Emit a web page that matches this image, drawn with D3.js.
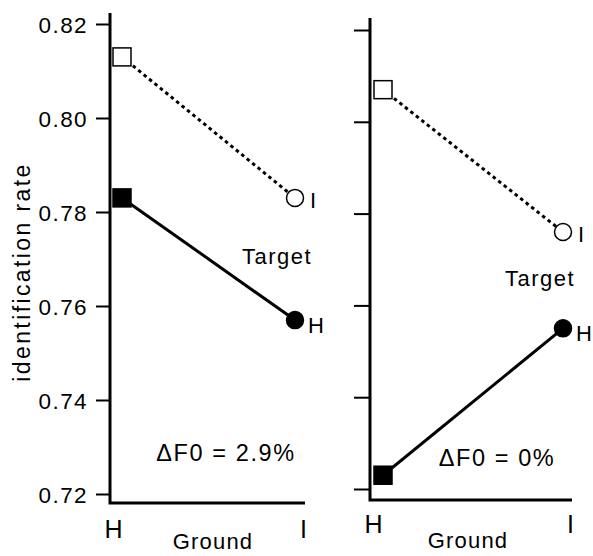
<!DOCTYPE html>
<html>
<head>
<meta charset="utf-8">
<script src="https://cdn.jsdelivr.net/npm/d3@7"></script>
<style>
  body { margin: 0; background: #fff; }
  svg { display: block; }
  text { font-family: "Liberation Sans", Arial, Helvetica, sans-serif; fill: #000; }
</style>
</head>
<body>
<script>
// ground categories (x) and y ticks
var grounds = ["H", "I"];
var yTicks = [0.72, 0.74, 0.76, 0.78, 0.80, 0.82];
var deltaF0 = ["2.9%", "0%"];

// identification rate, target H (filled, solid line) / target I (open, dotted)
var leftTargetH = [0.783, 0.757];
var leftTargetI = [0.813, 0.783];
var rightTargetH = [0.723, 0.755];
var rightTargetI = [0.807, 0.776];

var W = 593, H = 556;

var svg = d3.select("body").append("svg")
  .attr("width", W)
  .attr("height", H);

svg.append("rect").attr("width", W).attr("height", H).attr("fill", "#fff");

// geometry of each panel (pixels)
var panels = [
  { ax: 110, top: 13, bottom: 503, right: 305, yt: 24, yb: 494, mx: [122, 295],
    labels: true, tickLen: 14, hI: leftTargetI, hH: leftTargetH, df: deltaF0[0],
    dfX: 226, dfY: 461, tgX: 277, tgY: 264, gx: 213, gy: 549, lblY: 538 },
  { ax: 370, top: 18, bottom: 500, right: 572, yt: 30, yb: 489, mx: [383, 563],
    labels: false, tickLen: 16, hI: rightTargetI, hH: rightTargetH, df: deltaF0[1],
    dfX: 497, dfY: 466, tgX: 540, tgY: 286, gx: 468, gy: 548, lblY: 533 }
];

function drawPanel(p) {
  var g = svg.append("g");

  var y = d3.scaleLinear().domain([0.72, 0.82]).range([p.yb, p.yt]);
  var xAxisScale = d3.scalePoint().domain(grounds).range([p.ax + 3, p.right - 2]);
  var x = d3.scalePoint().domain(grounds).range(p.mx);

  // y axis ticks
  var yAxis = d3.axisLeft(y)
    .tickValues(yTicks)
    .tickSize(p.tickLen)
    .tickPadding(8)
    .tickFormat(p.labels ? d3.format(".2f") : "");
  var ya = g.append("g").attr("transform", "translate(" + p.ax + ",0)").call(yAxis);
  ya.select(".domain").remove();
  ya.selectAll("line").attr("stroke", "#000").attr("stroke-width", 2);
  ya.selectAll("text")
    .style("font-size", "22.5px")
    .style("letter-spacing", "1.4px")
    .attr("dy", "0.36em");

  // axis frame
  g.append("path")
    .attr("d", "M" + p.ax + "," + p.top + "V" + p.bottom + "H" + p.right)
    .attr("fill", "none")
    .attr("stroke", "#000")
    .attr("stroke-width", 3);

  // x tick labels
  var xAxis = d3.axisBottom(xAxisScale).tickSize(0).tickPadding(0);
  var xa = g.append("g").attr("transform", "translate(0," + p.lblY + ")").call(xAxis);
  xa.select(".domain").remove();
  xa.selectAll("text")
    .attr("dy", 0)
    .attr("y", 0)
    .style("font-size", "25px");

  g.append("text")
    .attr("x", p.gx).attr("y", p.gy)
    .attr("text-anchor", "middle")
    .style("font-size", "22px")
    .style("letter-spacing", "1.2px")
    .text("Ground");

  // lines
  var line = d3.line()
    .x(function(d, i) { return x(grounds[i]); })
    .y(function(d) { return y(d); });

  g.append("path").datum(p.hI)
    .attr("d", line)
    .attr("fill", "none")
    .attr("stroke", "#000")
    .attr("stroke-width", 3)
    .attr("stroke-dasharray", "3.5,3.5");

  g.append("path").datum(p.hH)
    .attr("d", line)
    .attr("fill", "none")
    .attr("stroke", "#000")
    .attr("stroke-width", 3);

  // markers: ground H = square, ground I = circle; target H filled, target I open
  var series = [
    { vals: p.hI, fill: "#fff" },
    { vals: p.hH, fill: "#000" }
  ];
  series.forEach(function(s) {
    var sq = 18;
    g.append("rect")
      .attr("x", x("H") - sq / 2)
      .attr("y", y(s.vals[0]) - sq / 2)
      .attr("width", sq).attr("height", sq)
      .attr("fill", s.fill)
      .attr("stroke", "#000")
      .attr("stroke-width", 1.5);
    g.append("circle")
      .attr("cx", x("I"))
      .attr("cy", y(s.vals[1]))
      .attr("r", 8.5)
      .attr("fill", s.fill)
      .attr("stroke", "#000")
      .attr("stroke-width", 1.5);
  });

  // target labels beside the end points
  g.append("text")
    .attr("x", x("I") + 15).attr("y", y(p.hI[1]) + 10)
    .style("font-size", "22px")
    .text("I");
  g.append("text")
    .attr("x", x("I") + 13).attr("y", y(p.hH[1]) + 13)
    .style("font-size", "22px")
    .text("H");

  g.append("text")
    .attr("x", p.tgX).attr("y", p.tgY)
    .attr("text-anchor", "middle")
    .style("font-size", "22px")
    .style("letter-spacing", "1.5px")
    .text("Target");

  g.append("text")
    .attr("x", p.dfX).attr("y", p.dfY)
    .attr("text-anchor", "middle")
    .style("font-size", "23.5px")
    .style("letter-spacing", "1.6px")
    .text("\u0394F0 = " + p.df);
}

panels.forEach(drawPanel);

// y axis title
svg.append("text")
  .attr("transform", "translate(30,272) rotate(-90)")
  .attr("text-anchor", "middle")
  .style("font-size", "23px")
  .style("letter-spacing", "2.4px")
  .text("identification rate");
</script>
</body>
</html>
